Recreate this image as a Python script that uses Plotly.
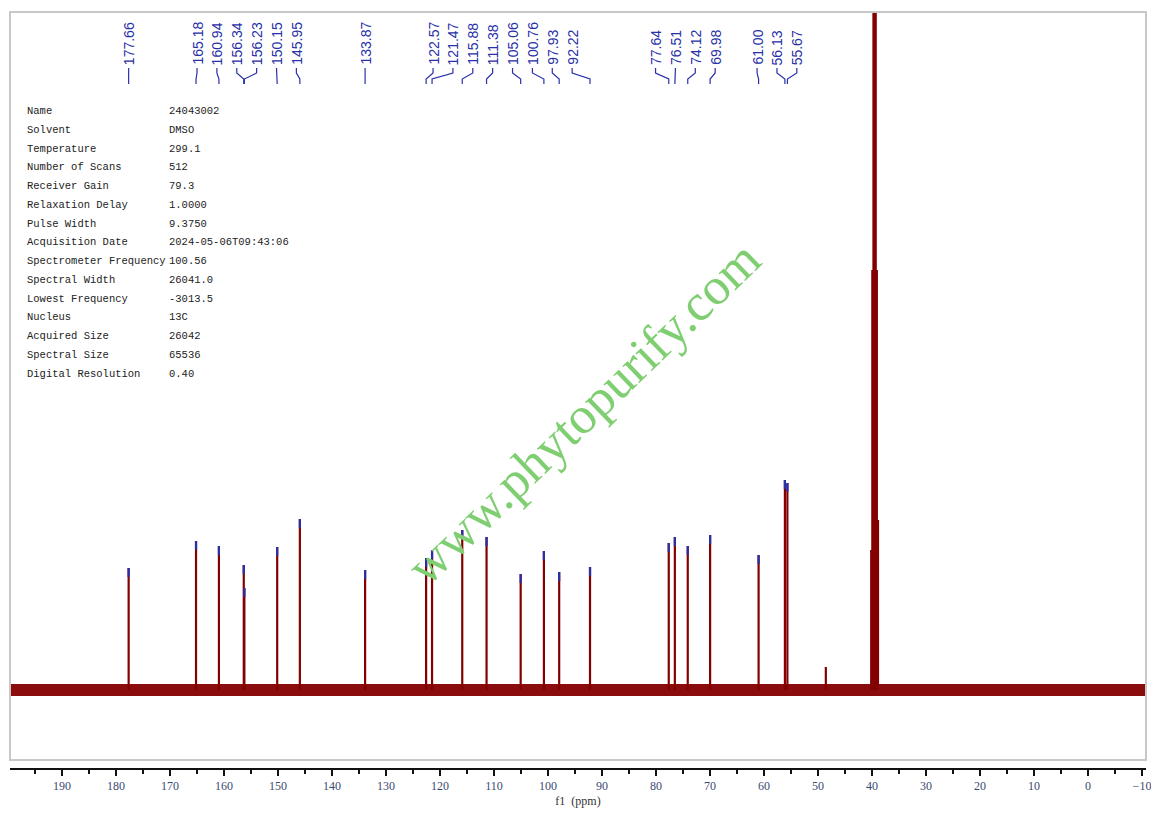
import plotly.graph_objects as go

# 13C spectrum, DMSO-d6 (heights, arbitrary units)
peak_ppm = [177.66, 165.18, 160.94, 156.34, 156.23, 150.15, 145.95, 133.87,
            122.57, 121.47, 115.88, 111.38, 105.06, 100.76, 97.93, 92.22,
            77.64, 76.51, 74.12, 69.98, 61.00, 56.13, 55.67]
peak_height = [122, 149, 144, 125, 102, 143, 171, 120,
               132, 140, 160, 153, 116, 139, 118, 123,
               147, 153, 144, 155, 135, 210, 207]

# unlabelled lines: small impurity + DMSO septet
other_ppm = [48.55, 40.15, 39.94, 39.73, 39.52, 39.31, 39.10, 38.89]
other_height = [23, 140, 420, 760, 900, 760, 420, 170]

info_names = ["Name", "Solvent", "Temperature", "Number of Scans", "Receiver Gain",
              "Relaxation Delay", "Pulse Width", "Acquisition Date",
              "Spectrometer Frequency", "Spectral Width", "Lowest Frequency",
              "Nucleus", "Acquired Size", "Spectral Size", "Digital Resolution"]
info_values = ["24043002", "DMSO", "299.1", "512", "79.3", "1.0000", "9.3750",
               "2024-05-06T09:43:06", "100.56", "26041.0", "-3013.5", "13C",
               "26042", "65536", "0.40"]

x_range = [199.63, -10.74]
red = "#840000"
blue = "#2830a8"


def spread_labels(pos, gap, link):
    # cluster peaks that sit close together, then fan their labels out
    order = sorted(range(len(pos)), key=lambda i: -pos[i])
    groups = [[order[0]]]
    for i in order[1:]:
        if pos[groups[-1][-1]] - pos[i] < link:
            groups[-1].append(i)
        else:
            groups.append([i])
    out = [0] * len(pos)
    for g in groups:
        c = sum(pos[i] for i in g) / len(g)
        for j, i in enumerate(g):
            out[i] = c + gap * ((len(g) - 1) / 2 - j)
    return out


label_x = spread_labels(peak_ppm, 3.68, 7.5)

fig = go.Figure()

# baseline noise band
fig.add_trace(go.Scatter(x=x_range, y=[0, 0], mode="lines",
                         line=dict(color=red, width=12), opacity=0.95,
                         hoverinfo="skip", showlegend=False))

# peak lines
xs, ys = [], []
for p, h in zip(peak_ppm + other_ppm, peak_height + other_height):
    xs += [p, p, None]
    ys += [0, h, None]
fig.add_trace(go.Scatter(x=xs, y=ys, mode="lines",
                         line=dict(color=red, width=2.2),
                         hoverinfo="skip", showlegend=False))

# blue tips on labelled peaks
xs, ys = [], []
for p, h in zip(peak_ppm, peak_height):
    xs += [p, p, None]
    ys += [h - 9, h, None]
fig.add_trace(go.Scatter(x=xs, y=ys, mode="lines",
                         line=dict(color=blue, width=2.2),
                         hoverinfo="skip", showlegend=False))

# label leader lines (y2 is a pixel-like overlay axis)
xs, ys = [], []
for p, lx in zip(peak_ppm, label_x):
    xs += [lx, lx, p, p, None]
    ys += [68, 73, 79, 84, None]
fig.add_trace(go.Scatter(x=xs, y=ys, yaxis="y2", mode="lines",
                         line=dict(color=blue, width=1.2),
                         hoverinfo="skip", showlegend=False))

for p, lx in zip(peak_ppm, label_x):
    fig.add_annotation(x=lx, y=67, yref="y2", text=f"{p:.2f}", textangle=-90,
                       showarrow=False, xanchor="center", yanchor="bottom",
                       font=dict(family="Liberation Sans, Arial", size=14, color=blue))

# parameter table
mono = dict(family="Liberation Mono, monospace", size=10.5, color="#222")
for k, (n, v) in enumerate(zip(info_names, info_values)):
    y = 111 + 18.75 * k
    fig.add_annotation(x=0.0132, y=y, xref="paper", yref="y2", text=n, showarrow=False,
                       xanchor="left", yanchor="middle", font=mono)
    fig.add_annotation(x=0.138, y=y, xref="paper", yref="y2", text=v, showarrow=False,
                       xanchor="left", yanchor="middle", font=mono)

# watermark
fig.add_annotation(x=0.505, y=0.47, xref="paper", yref="paper",
                   text="www.phytopurify.com", textangle=-44, showarrow=False,
                   font=dict(family="Liberation Serif, serif", size=52, color="#7fcf72"))

# grey frame
fig.add_shape(type="rect", xref="paper", yref="paper", x0=0, x1=1, y0=0.0106, y1=1,
              line=dict(color="#c8c8c8", width=2), layer="above")

fig.update_layout(
    width=1159, height=813,
    margin=dict(l=2, r=21, t=4, b=53),
    plot_bgcolor="white", paper_bgcolor="white",
    xaxis=dict(range=x_range, dtick=10, tick0=0, showgrid=False, zeroline=False,
               showline=True, linecolor="#111", linewidth=2,
               ticks="outside", ticklen=6, tickwidth=1.5, tickcolor="#111",
               minor=dict(dtick=5, tick0=0, ticks="outside", ticklen=4, tickcolor="#111"),
               tickfont=dict(family="Liberation Serif, serif", size=12, color="#3b4a72"),
               title=dict(text="f1  (ppm)", standoff=4,
                          font=dict(family="Liberation Serif, serif", size=12, color="#333"))),
    yaxis=dict(range=[-78, 678], visible=False, showgrid=False, zeroline=False),
    yaxis2=dict(range=[768, 12], overlaying="y", visible=False, showgrid=False),
)

fig.write_html("out.html")
